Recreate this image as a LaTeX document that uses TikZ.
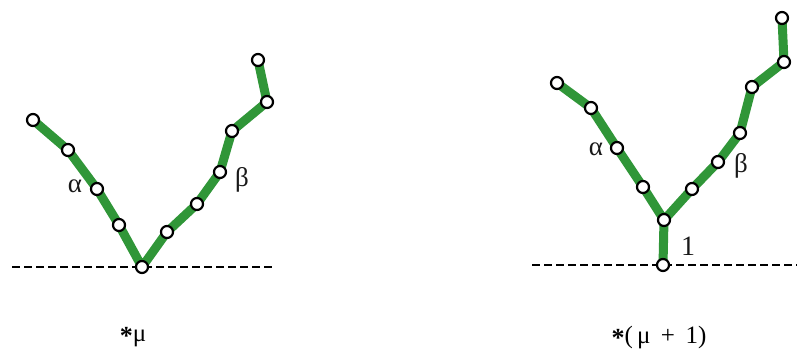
\documentclass[tikz,border=0pt]{standalone}
\usepackage{fontspec}
\setmainfont{Liberation Serif}
\begin{document}
\begin{tikzpicture}[x=1pt,y=-1pt,
  bond/.style={draw=chaingreen,line width=9pt,line join=round},
  atom/.style={circle,draw=black,fill=white,line width=2.2pt,inner sep=0pt,minimum size=12pt},
  base/.style={draw=black,line width=2.8pt,dash pattern=on 7.5pt off 4.5pt},
  lab/.style={font=\fontsize{27}{29}\selectfont,inner sep=0pt,text=black!90},
  caption/.style={font=\fontsize{25}{28}\selectfont,inner sep=0pt,text=black}]
\definecolor{chaingreen}{RGB}{48,150,56}
\useasboundingbox (0,0) rectangle (801,353);
% ---- left figure ----
\coordinate (lb0) at (12,267);
\coordinate (lb1) at (273,267);
\draw[base] (lb0) -- (lb1);
\coordinate (r) at (142,267);
\coordinate (a1) at (119,225);
\coordinate (a2) at (97,189);
\coordinate (a3) at (68,150);
\coordinate (a4) at (33,120);
\coordinate (b1) at (167,232);
\coordinate (b2) at (197,204);
\coordinate (b3) at (220,172);
\coordinate (b4) at (232,131);
\coordinate (b5) at (267,102);
\coordinate (b6) at (258,60);
\path[bond] (a4) -- (a3) -- (a2) -- (a1) -- (r) -- (b1) -- (b2) -- (b3) -- (b4) -- (b5) -- (b6);
\foreach \n in {r,a1,a2,a3,a4,b1,b2,b3,b4,b5,b6} \node[atom] (n\n) at (\n) {};
\node[lab] (la) at (75,186) {α};
\node[lab] (lbeta) at (242,180) {β};
\node[caption] (lt) at (133,337) {\raisebox{-0.3ex}{\bfseries\fontsize{26}{26}\selectfont *}μ};
% ---- right figure ----
\coordinate (rb0) at (532,265);
\coordinate (rb1) at (797,265);
\draw[base] (rb0) -- (rb1);
\coordinate (R) at (663,265);
\coordinate (J) at (664,220);
\coordinate (A1) at (643,187);
\coordinate (A2) at (617,148);
\coordinate (A3) at (591,108);
\coordinate (A4) at (557,83);
\coordinate (B1) at (692,189);
\coordinate (B2) at (718,162);
\coordinate (B3) at (740,133);
\coordinate (B4) at (752,87);
\coordinate (B5) at (784,62);
\coordinate (B6) at (782,18);
\path[bond] (R) -- (J);
\path[bond] (A4) -- (A3) -- (A2) -- (A1) -- (J) -- (B1) -- (B2) -- (B3) -- (B4) -- (B5) -- (B6);
\foreach \n in {R,J,A1,A2,A3,A4,B1,B2,B3,B4,B5,B6} \node[atom] (n\n) at (\n) {};
\node[lab] (ra) at (596,149) {α};
\node[lab] (rbeta) at (741,166) {β};
\node[lab,font=\fontsize{28}{30}\selectfont] (one) at (688,246) {1};
\node[caption] (rt) at (659,337) {\raisebox{-0.3ex}{\bfseries\fontsize{26}{26}\selectfont *}(\,μ\ \,+\ \,1)};
\end{tikzpicture}
\end{document}
